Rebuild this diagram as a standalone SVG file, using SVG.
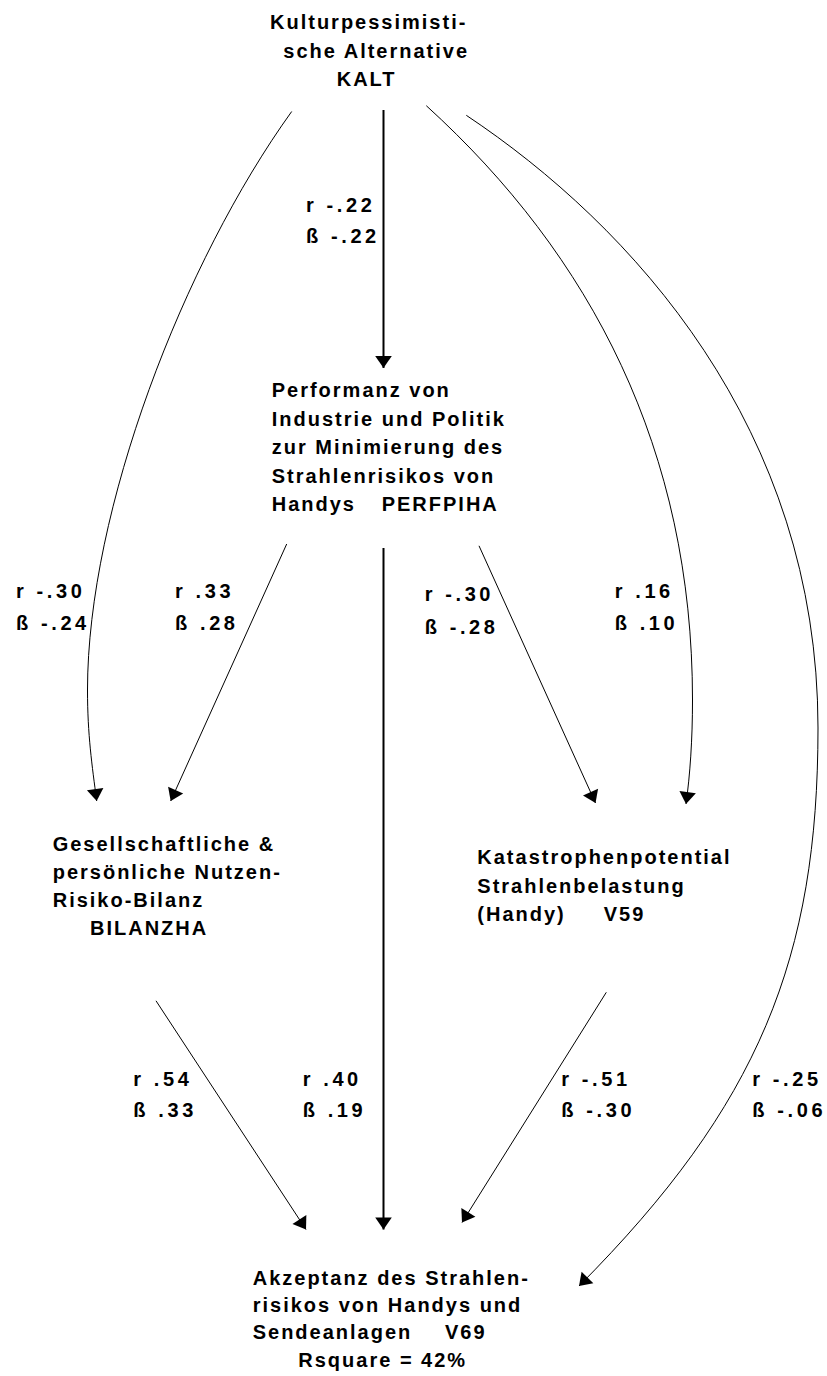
<svg xmlns="http://www.w3.org/2000/svg" width="827" height="1376" viewBox="0 0 827 1376">
<defs>
<style>
text{font-family:"Liberation Sans",Arial,Helvetica,sans-serif;font-weight:bold;font-size:20px;fill:#000;letter-spacing:2px}
text.lab{letter-spacing:3.6px}
.thick{stroke:#000;stroke-width:2;fill:none}
.thin{stroke:#000;stroke-width:1;fill:none}
</style>
<marker id="ah" markerUnits="userSpaceOnUse" viewBox="-13 -10 14 20" markerWidth="14" markerHeight="20" refX="0" refY="0" orient="auto">
<path d="M0,0 L-12,-8.3 L-12,8.3 Z" fill="#000"/>
</marker>
</defs>
<rect width="827" height="1376" fill="#fff"/>

<g id="connectors">
<path id="e-kalt-perf" class="thick" d="M383.5,110 L383.5,368" marker-end="url(#ah)"/>
<path id="e-kalt-bil" class="thin" d="M291.7,111.5 C183.7,261.5 87.5,510 87.5,690 C87.5,735 92,765 96.7,801" marker-end="url(#ah)"/>
<path id="e-kalt-v59" class="thin" d="M426.3,105.7 C591.3,255.7 692.5,450 692.5,700 C692.5,740 690,775 686,804" marker-end="url(#ah)"/>
<path id="e-kalt-v69" class="thin" d="M466.3,115.3 C631.3,225.3 818,428 818,728 C818,958 759,1105 579,1286" marker-end="url(#ah)"/>
<path id="e-perf-bil" class="thin" d="M286.7,544 L170.7,801" marker-end="url(#ah)"/>
<path id="e-perf-v59" class="thin" d="M479,545.8 L595.5,803" marker-end="url(#ah)"/>
<path id="e-perf-v69" class="thick" d="M383.5,548 L383.5,1229.5" marker-end="url(#ah)"/>
<path id="e-bil-v69" class="thin" d="M156,1000.8 L306,1229.5" marker-end="url(#ah)"/>
<path id="e-v59-v69" class="thin" d="M606.3,992.3 L462,1222.5" marker-end="url(#ah)"/>
</g>

<g id="labels">
<text class="lab" x="306" y="212">r -.22</text>
<text class="lab" x="306" y="242.5">ß -.22</text>
<text class="lab" x="16" y="597.5">r -.30</text>
<text class="lab" x="16" y="630">ß -.24</text>
<text class="lab" x="175" y="597.5">r .33</text>
<text class="lab" x="175" y="630">ß .28</text>
<text class="lab" x="424.7" y="601">r -.30</text>
<text class="lab" x="424.7" y="634">ß -.28</text>
<text class="lab" x="614.7" y="597.5">r .16</text>
<text class="lab" x="614.7" y="630">ß .10</text>
<text class="lab" x="133.3" y="1086">r .54</text>
<text class="lab" x="133.3" y="1116.7">ß .33</text>
<text class="lab" x="302.7" y="1086">r .40</text>
<text class="lab" x="302.7" y="1116.7">ß .19</text>
<text class="lab" x="561.3" y="1086">r -.51</text>
<text class="lab" x="561.3" y="1116.7">ß -.30</text>
<text class="lab" x="752.3" y="1086">r -.25</text>
<text class="lab" x="752.3" y="1116.7">ß -.06</text>
</g>

<g id="node-kalt">
<text x="270" y="29.3">Kulturpessimisti-</text>
<text x="283.3" y="57.5">sche Alternative</text>
<text x="336.7" y="86">KALT</text>
</g>

<g id="node-perfpiha">
<text x="271.7" y="397">Performanz von</text>
<text x="271.7" y="425.5">Industrie und Politik</text>
<text x="271.7" y="454">zur Minimierung des</text>
<text x="271.7" y="482.5">Strahlenrisikos von</text>
<text x="271.7" y="511">Handys</text>
<text x="381.7" y="511">PERFPIHA</text>
</g>

<g id="node-bilanzha">
<text x="52.7" y="850.7">Gesellschaftliche &amp;</text>
<text x="52.7" y="879">persönliche Nutzen-</text>
<text x="52.7" y="907.4">Risiko-Bilanz</text>
<text x="90" y="935">BILANZHA</text>
</g>

<g id="node-v59">
<text x="477.3" y="864">Katastrophenpotential</text>
<text x="477.3" y="892.5">Strahlenbelastung</text>
<text x="477.3" y="921">(Handy)</text>
<text x="603.7" y="921">V59</text>
</g>

<g id="node-v69">
<text x="252.7" y="1285">Akzeptanz des Strahlen-</text>
<text x="252.7" y="1312">risikos von Handys und</text>
<text x="252.7" y="1339.3">Sendeanlagen</text>
<text x="445" y="1339.3">V69</text>
<text x="298.3" y="1366.7">Rsquare = 42%</text>
</g>
</svg>
